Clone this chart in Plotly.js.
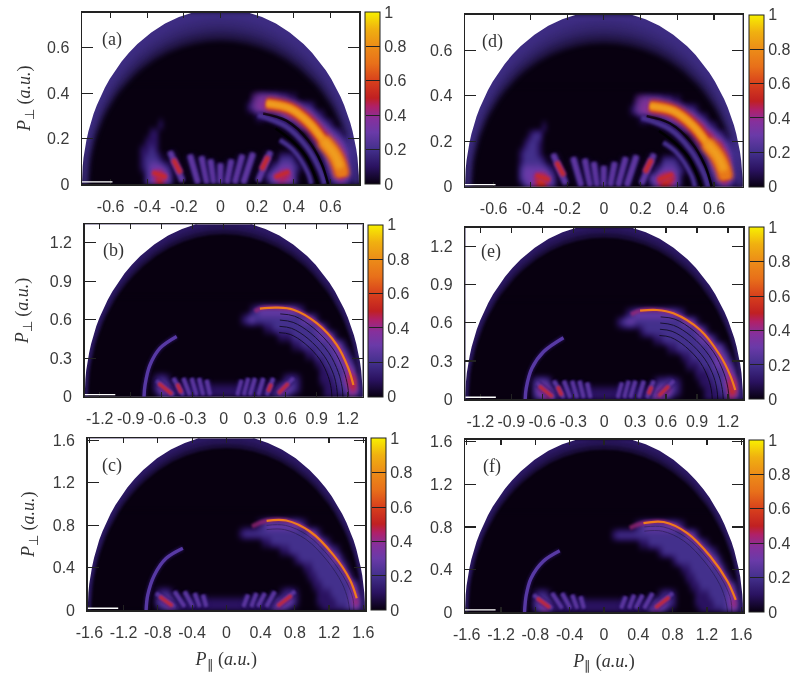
<!DOCTYPE html>
<html><head><meta charset="utf-8">
<script src="https://cdn.plot.ly/plotly-3.0.1.min.js"></script>
<style>html,body{margin:0;padding:0;background:#fff}#chart{filter:blur(0.45px)}</style></head>
<body><div id="chart" style="width:802px;height:677px"></div>
<script>
// Broad intensity on a 61 x 12 grid, in tenths; top row first
// (rows step by one twentieth of the height; everything above them is dark).
const Z = "0000000000 0000000000 0000000000 0000000000 0000000000 0000000000 0";
const rowsA = [
Z,
"0000000000 0000000000 0000000000 0000000123 3332211000 0000000000 0",
"0000000000 0000000000 0000000000 0000001234 4444443322 1000000000 0",
"0000000000 0000000000 0000000000 0000000011 0012344444 3210000000 0",
"0000000000 0000000100 0000000000 0000000000 0000001234 4432100000 0",
"0000000000 0000011000 0000000000 0000000000 0000000001 2444321000 0",
"0000000000 0000111000 0000000000 0000000000 0000000000 1234443210 0",
"0000000000 0001121000 0000000000 0000000000 0000000000 0123444321 0",
"0000000000 0001222100 0000000000 0000000000 0002221000 0013455421 0",
"0000000000 0001233321 0000000000 0000000000 0123332100 0002355421 0",
"0000000000 0000235642 0000000000 0000000000 2345542000 0001245421 0",
"0000000000 0000234532 0000000000 0000000000 0234332000 0000123210 0"];
const rowsB = [
Z,
"0000000000 0000000000 0000000000 0000001233 3333332100 0000000000 0",
"0000000000 0000000000 0000000000 0000123222 2222222333 1000000000 0",
"0000000000 0000000000 0000000000 0000000001 1222222222 3310000000 0",
"0000000000 0000000000 0000000000 0000000000 0011122222 2333100000 0",
"0000000000 0000000000 0000000000 0000000000 0000011222 2223331000 0",
"0000000000 0000000000 0000000000 0000000000 0000000011 2222333100 0",
"0000000000 0000000000 0000000000 0000000000 0000000000 1122233310 0",
"0000000000 0000000000 0000000000 0000000000 0000000000 0112223430 0",
"0000000000 0000012210 0000000000 0000000000 0001221000 0111223562 0",
"0000000000 0000013431 1111111111 1111111111 1134321000 0011122453 0",
"0000000000 0000001232 1111111111 1111111111 1232100000 0011111331 0"];
const rowsC = [
Z,
"0000000000 0000000000 0000000000 0000000123 3333332100 0000000000 0",
"0000000000 0000000000 0000000000 0001222222 2222222233 1000000000 0",
"0000000000 0000000000 0000000000 0000000011 2222222222 3210000000 0",
"0000000000 0000000000 0000000000 0000000000 0011222222 2232100000 0",
"0000000000 0000000000 0000000000 0000000000 0000012222 2223310000 0",
"0000000000 0000000000 0000000000 0000000000 0000000112 2222231000 0",
"0000000000 0000000000 0000000000 0000000000 0000000011 2222223100 0",
"0000000000 0000000000 0000000000 0000000000 0000000001 1222222320 0",
"0000000000 0000012210 0000000000 0000000000 0012210000 1112222331 0",
"0000000000 0000023431 1111111111 1111111111 1334310000 1111222352 0",
"0000000000 0000001242 1111111111 1111111111 2431000000 0111112231 0"];
const rowsD = [
Z,
"0000000000 0000000000 0000000000 0000000123 3332211000 0000000000 0",
"0000000000 0000000000 0000000000 0000001234 4555543322 1000000000 0",
"0000000000 0000000000 0000000000 0000000011 0012345554 3210000000 0",
"0000000000 0000000100 0000000000 0000000000 0000001234 5532100000 0",
"0000000000 0000122000 0000000000 0000000000 0000000001 2455321000 0",
"0000000000 0001221000 0000000000 0000000000 0000000000 1234553210 0",
"0000000000 0012221000 0000000000 0000000000 0000000000 0123555321 0",
"0000000000 0012222100 0000000000 0000000000 0002221000 0013566421 0",
"0000000000 0023333321 0000000000 0000000000 0123332100 0002356421 0",
"0000000000 0023346642 0000000000 0000000000 3356652000 0001246421 0",
"0000000000 0002345532 0000000000 0000000000 0345432000 0000123210 0"];
const rowsE = [
Z,
"0000000000 0000000000 0000000000 0000012333 3333332100 0000000000 0",
"0000000000 0000000000 0000000000 0001233222 2222222333 1000000000 0",
"0000000000 0000000000 0000000000 0000000012 2222222222 3310000000 0",
"0000000000 0000000000 0000000000 0000000000 0112222222 2333100000 0",
"0000000000 0000000000 0000000000 0000000000 0000112222 2223331000 0",
"0000000000 0000000000 0000000000 0000000000 0000000112 2222333100 0",
"0000000000 0000000000 0000000000 0000000000 0000000011 1222333310 0",
"0000000000 0000000000 0000000000 0000000000 0000000000 1112223430 0",
"0000000000 0000023320 0000000000 0000000000 0122321000 0111223562 0",
"0000000000 0000024442 1111111111 1111111111 1345421000 0011122563 0",
"0000000000 0000012352 1111111111 1111111111 2442100000 0011111431 0"];
const rowsF = [
Z,
"0000000000 0000000000 0000000000 0000000123 3333332100 0000000000 0",
"0000000000 0000000000 0000000000 0012222222 2222222233 1000000000 0",
"0000000000 0000000000 0000000000 0000000011 2222222222 3210000000 0",
"0000000000 0000000000 0000000000 0000000000 0012222222 2232100000 0",
"0000000000 0000000000 0000000000 0000000000 0000012222 2223310000 0",
"0000000000 0000000000 0000000000 0000000000 0000000112 2222231000 0",
"0000000000 0000000000 0000000000 0000000000 0000000011 2222223100 0",
"0000000000 0000000000 0000000000 0000000000 0000000001 1222222320 0",
"0000000000 0000012210 0000000000 0000000000 0012210000 1112222331 0",
"0000000000 0000023331 1111111111 1111111111 1334210000 1111222352 0",
"0000000000 0000012431 1111111111 1111111111 3431000000 0111112231 0"];

// Bright ridge (momentum units).
const ridgeXA = [0.178,0.251,0.378,0.487,0.56,0.624,0.655,0.665];
const ridgeYA = [0.362,0.355,0.333,0.267,0.194,0.128,0.07,0.034];
const ridgeXB = [0.30,0.35,0.513,0.674,0.90,1.094,1.206,1.255];
const ridgeYB = [0.665,0.687,0.695,0.679,0.574,0.405,0.222,0.091];
const ridgeXC = [0.30,0.47,0.70,0.977,1.25,1.445,1.523];
const ridgeYC = [0.79,0.843,0.846,0.742,0.522,0.286,0.113];
const ridgeXE = [0.26,0.348,0.51,0.67,0.93,1.12,1.22,1.27];
const ridgeYE = [0.665,0.695,0.70,0.674,0.543,0.347,0.19,0.073];
const ridgeXF = [0.30,0.46,0.695,0.97,1.24,1.44,1.535];
const ridgeYF = [0.79,0.836,0.846,0.742,0.522,0.286,0.113];

// Secondary purple rings in panels (a) and (d).
const sideXA = [[0.205,0.36,0.469,0.542,0.569],[0.324,0.396,0.478,0.496]];
const sideYA = [[0.304,0.253,0.165,0.063,0],[0.194,0.15,0.048,0]];

// Faint outer arc on the negative side.
const arcXB = [-0.455,-0.616,-0.713,-0.761,-0.771];
const arcYB = [0.47,0.379,0.248,0.091,0];
const arcXC = [-0.508,-0.703,-0.84,-0.918,-0.9375];
const arcYC = [0.585,0.49,0.333,0.145,0.003];
const arcXE = [-0.394,-0.587,-0.70,-0.755,-0.765];
const arcYE = [0.483,0.373,0.243,0.086,0];
const arcXF = [-0.516,-0.71,-0.85,-0.906,-0.926];
const arcYF = [0.575,0.475,0.318,0.16,0];

// Dark rings below the ridge.
const ringsXA = [[0.233,0.36,0.478,0.551,0.587],[0.30,0.395,0.467,0.532]];
const ringsYA = [[0.311,0.279,0.194,0.092,0],[0.245,0.187,0.121,0]];
const ringsXB = [[0.547,0.686,0.872,1.058,1.16,1.2,1.21],[0.543,0.672,0.844,1.016,1.11,1.145,1.154],[0.54,0.658,0.816,0.974,1.063,1.093,1.101],[0.536,0.644,0.788,0.932,1.011,1.04,1.047]];
const ringsYB = [[0.646,0.628,0.534,0.372,0.205,0.084,0],[0.598,0.58,0.494,0.344,0.189,0.077,0],[0.549,0.533,0.453,0.316,0.174,0.071,0],[0.5,0.486,0.413,0.288,0.158,0.065,0]];
const ringsXC = [[0.47,0.69,0.95,1.21,1.40,1.48,1.49],[0.47,0.68,0.93,1.175,1.35,1.42,1.44]];
const ringsYC = [[0.80,0.80,0.705,0.496,0.272,0.107,0],[0.76,0.76,0.668,0.47,0.257,0.10,0]];

// Interference lobes near the axis: x top, x bottom, y top, y bottom.
const lobesA = [[-0.276,-0.207,0.143,0.012],[-0.167,-0.122,0.128,0.004],[-0.104,-0.073,0.121,0.004],[-0.055,-0.035,0.107,0.004],[0,0,0.09,0.004],[0.06,0.036,0.107,0.004],[0.12,0.078,0.128,0.004],[0.178,0.124,0.136,0.004],[0.273,0.205,0.143,0.012]];
const coresA = [[-0.371,-0.295,0.051,0.029],[-0.258,-0.218,0.109,0.048],[0.26,0.224,0.121,0.063],[0.375,0.296,0.055,0.029]];
const lobesB = [[-0.648,-0.487,0.125,0.013],[-0.487,-0.39,0.144,0.013],[-0.39,-0.326,0.144,0.013],[-0.31,-0.261,0.144,0.013],[-0.239,-0.197,0.144,0.013],[-0.165,-0.132,0.13,0.013],[0.174,0.132,0.13,0.013],[0.239,0.197,0.144,0.013],[0.303,0.255,0.144,0.013],[0.384,0.335,0.144,0.013],[0.48,0.416,0.144,0.013],[0.674,0.529,0.144,0.026]];
const coresB = [[-0.63,-0.5,0.104,0.02],[-0.45,-0.41,0.1,0.03],[0.46,0.43,0.1,0.04],[0.626,0.529,0.104,0.026]];
const lobesC = [[-0.82,-0.605,0.16,0.035],[-0.605,-0.488,0.176,0.035],[-0.488,-0.39,0.176,0.035],[-0.37,-0.31,0.16,0.035],[-0.273,-0.234,0.145,0.035],[0.254,0.2,0.145,0.035],[0.352,0.293,0.16,0.035],[0.45,0.37,0.16,0.035],[0.566,0.469,0.176,0.035],[0.8,0.586,0.176,0.035]];
const coresC = [[-0.78,-0.63,0.13,0.04],[0.76,0.6,0.14,0.04]];

// Outer kinematic edge, as fractions of the half-width and of the height.
const edgeU = [1,0.9987,0.995,0.989,0.98,0.968,0.954,0.937,0.917,0.893,0.866,0.835,0.8,0.76,0.714,0.661,0.6,0.5,0.4,0.3,0.2,0.1,0];
const edgeV = [0,0.05,0.1,0.15,0.2,0.25,0.3,0.35,0.4,0.45,0.5,0.55,0.6,0.65,0.7,0.75,0.8,0.866,0.917,0.954,0.98,0.995,1];
// Nested rims of the edge band: scale of the width, scale of the height.
const wideRimU = [0.95,0.962,0.974,0.986];
const wideRimV = [0.82,0.86,0.90,0.945];
const thinRimU = [0.972,0.982,0.99];
const thinRimV = [0.925,0.95,0.975];

const ticksA = [-0.6,-0.4,-0.2,0,0.2,0.4,0.6];
const ticksB = [-1.2,-0.9,-0.6,-0.3,0,0.3,0.6,0.9,1.2];
const ticksC = [-1.6,-1.2,-0.8,-0.4,0,0.4,0.8,1.2,1.6];
const yTicksA = [0,0.2,0.4,0.6];
const yTicksB = [0,0.3,0.6,0.9,1.2];
const yTicksC = [0,0.4,0.8,1.2,1.6];
const barTicks = [0,0.2,0.4,0.6,0.8,1];

const colors = [[0,'#080010'],[0.1,'#2a1260'],[0.2,'#43308c'],[0.3,'#6a3aa8'],[0.38,'#86309c'],[0.45,'#b02068'],[0.5,'#c02022'],[0.6,'#d8401c'],[0.7,'#e8701a'],[0.8,'#ec8c18'],[0.9,'#f0b010'],[1,'#f8f000']];

const panels = [
 {id:'(a)',kind:'wide',rows:rowsA,R:0.756,xt:ticksA,yt:yTicksA,l:82,r:359,t:12.5,b:184,cb:365,lx:112,ly:39,ridgeX:ridgeXA,ridgeY:ridgeYA,ringsX:ringsXA,ringsY:ringsYA,ringW:2.5,ringO:0.9,lobes:lobesA,cores:coresA,lobeW:5,yGap:11},
 {id:'(b)',kind:'thin',rows:rowsB,R:1.345,xt:ticksB,yt:yTicksB,l:84.7,r:362.7,t:224.3,b:396.7,cb:368.3,lx:113,ly:251,ridgeX:ridgeXB,ridgeY:ridgeYB,arcX:arcXB,arcY:arcYB,ringsX:ringsXB,ringsY:ringsYB,ringW:1,ringO:0.65,lobes:lobesB,cores:coresB,lobeW:3.5,yGap:16},
 {id:'(c)',kind:'thin',rows:rowsC,R:1.62,xt:ticksC,yt:yTicksC,l:87.7,r:365,t:438.3,b:610.3,cb:371,lx:112,ly:465,ridgeX:ridgeXC,ridgeY:ridgeYC,arcX:arcXC,arcY:arcYC,ringsX:ringsXC,ringsY:ringsYC,ringW:1,ringO:0.3,lobes:lobesC,cores:coresC,lobeW:3.5,xPad:'\u00a0\u00a0',yGap:13},
 {id:'(d)',kind:'wide',rows:rowsD,R:0.756,xt:ticksA,yt:yTicksA,l:465,r:742.7,t:14.7,b:186.7,cb:749,lx:492,ly:41,ridgeX:ridgeXA,ridgeY:ridgeYA,ringsX:ringsXA,ringsY:ringsYA,ringW:2.5,ringO:0.9,lobes:lobesA,cores:coresA,lobeW:5},
 {id:'(e)',kind:'thin',rows:rowsE,R:1.345,xt:ticksB,yt:yTicksB,l:465.3,r:743,t:227.7,b:399.3,cb:749,lx:491,ly:252,ridgeX:ridgeXE,ridgeY:ridgeYE,arcX:arcXE,arcY:arcYE,ringsX:ringsXB,ringsY:ringsYB,ringW:1,ringO:0.65,lobes:lobesB,cores:coresB,lobeW:3.5},
 {id:'(f)',kind:'thin',rows:rowsF,R:1.62,xt:ticksC,yt:yTicksC,l:465,r:743,t:439.7,b:612,cb:749,lx:492,ly:466,ridgeX:ridgeXF,ridgeY:ridgeYF,arcX:arcXF,arcY:arcYF,ringsX:ringsXC,ringsY:ringsYC,ringW:1,ringO:0.3,lobes:lobesC,cores:coresC,lobeW:3.5,xPad:'\u00a0\u00a0\u00a0\u00a0'}
];

const W=802,H=677;
const tickFont={family:'"Liberation Sans",Arial,sans-serif',size:16,color:'#3a3a3a'};
const titleFont={family:'"Liberation Serif",serif',size:18,color:'#333'};
const data=[],annotations=[],shapes=[],softness=[];
const layout={width:W,height:H,margin:{l:0,r:0,t:0,b:0,autoexpand:false},paper_bgcolor:'#fff',plot_bgcolor:'#080010',showlegend:false,annotations,shapes};

panels.forEach((p,i)=>{
  const n=i?String(i+1):'',xa='x'+n,ya='y'+n;
  const z=p.rows.map(r=>r.replace(/ /g,'').split('').map(c=>+c/10)).reverse();
  const xs=z[0].map((_,k)=>p.R*(k-30)/30), ys=z.map((_,k)=>p.R*k/20);
  data.push({type:'heatmap',x:xs,y:ys,z,xaxis:xa,yaxis:ya,zmin:0,zmax:1,zsmooth:'best',colorscale:colors,hoverinfo:'skip',
    colorbar:{x:p.cb/W,xanchor:'left',xpad:0,ypad:0,y:(H-p.b)/H,yanchor:'bottom',lenmode:'pixels',len:p.b-p.t,thicknessmode:'pixels',thickness:14.5,
      outlinecolor:'#222',outlinewidth:1,ticks:'inside',ticklen:14.5,tickcolor:'#222',tickwidth:1,tickmode:'array',tickvals:barTicks,ticktext:barTicks.map(String),
      tickprefix:'\u00a0\u00a0\u00a0\u00a0\u00a0\u00a0',tickfont:tickFont}});
  const line=(x,y,color,width,opacity,shape,soft)=>{data.push({type:'scatter',mode:'lines',x,y,xaxis:xa,yaxis:ya,line:{color,width,shape:shape||'spline'},opacity,hoverinfo:'skip'});softness.push(soft);};
  const wide=p.kind==='wide';
  const lw=p.lobeW, sl=wide?1.8:1;
  p.lobes.forEach(o=>{ line(o.slice(0,2),o.slice(2),'#2a1260',lw+4,0.6,'linear',sl+0.8); line(o.slice(0,2),o.slice(2),'#4c3496',lw+1,0.9,'linear',sl); line(o.slice(0,2),o.slice(2),'#6a3aa8',lw-1.5,0.9,'linear',sl); });
  p.cores.forEach(o=>{ line(o.slice(0,2),o.slice(2),'#a02878',lw+1.5,0.8,'linear',sl); line(o.slice(0,2),o.slice(2),'#cc2a22',lw-1.5,1,'linear',sl*0.8); });
  if(wide){
    sideXA.forEach((sx,k)=>{ line(sx,sideYA[k],'#2a1260',9-2*k,0.6,null,1.5); line(sx,sideYA[k],'#4c3596',5-k,0.9,null,1); });
  }
  p.ringsX.forEach((rx,k)=>line(rx,p.ringsY[k],'#000',p.ringW,p.ringO,null,wide?0.7:0.3));
  if(p.arcX){ line(p.arcX,p.arcY,'#2a1260',6,0.6,null,1); line(p.arcX,p.arcY,'#5f3fb0',3.4,0.9,null,0.6); }
  if(wide){
    line(p.ridgeX,p.ridgeY,'#8a3090',17,0.6,null,3);
    line(p.ridgeX.slice(1),p.ridgeY.slice(1),'#c8301e',13,0.9,null,2.2);
    line(p.ridgeX.slice(1),p.ridgeY.slice(1),'#e87a1a',9,1,null,1.8);
    line(p.ridgeX.slice(1,7),p.ridgeY.slice(1,7),'#f0a020',5,0.95,null,1.5);
    line(p.ridgeX.slice(4,8),p.ridgeY.slice(4,8),'#e87a1a',15,0.9,null,2.5);
    line(p.ridgeX.slice(4,7),p.ridgeY.slice(4,7),'#f0a020',8,0.95,null,2);
  } else {
    line(p.ridgeX,p.ridgeY,'#a02878',4.5,0.7,null,1);
    line(p.ridgeX.slice(1),p.ridgeY.slice(1),'#ee7c1c',2.2,1,null,0.4);
  }
  const top=p.R*1.02;
  const annulus=(su,sv,color,soft)=>{
    const mx=[-p.R].concat(edgeU.map(u=>-u*p.R*su),edgeU.slice(0,-1).reverse().map(u=>u*p.R*su),[p.R,p.R,-p.R,-p.R]);
    const my=[0].concat(edgeV.map(v=>v*top*sv),edgeV.slice(0,-1).reverse().map(v=>v*top*sv),[0,p.R,p.R,0]);
    data.push({type:'scatter',mode:'lines',x:mx,y:my,xaxis:xa,yaxis:ya,fill:'toself',fillcolor:color,line:{width:0,color:'rgba(0,0,0,0)'},hoverinfo:'skip'});
    softness.push(soft);
  };
  // rim of the edge, darkest inside, then white outside it
  const rimU=wide?wideRimU:thinRimU, rimV=wide?wideRimV:thinRimV;
  rimU.forEach((su,k)=>annulus(su,rimV[k],wide?'rgba(72,52,150,0.38)':'rgba(52,30,120,0.42)',wide?2.5:1.2));
  annulus(1,1,'#fff',0);
  const ax={showline:true,linecolor:'#222',linewidth:1.5,mirror:'allticks',ticks:'inside',tickcolor:'#222',tickwidth:1.2,showgrid:false,zeroline:false,tickmode:'array',tickfont:tickFont};
  layout['xaxis'+n]=Object.assign({},ax,{domain:[p.l/W,p.r/W],range:[-p.R,p.R],anchor:ya,tickvals:p.xt,ticktext:p.xt.map(String),ticklen:5,ticklabelstandoff:7,
     title:p.xPad?{text:'<i>P</i><sub>\u2225</sub> (<i>a.u.</i>)'+p.xPad,font:titleFont,standoff:12}:undefined});
  layout['yaxis'+n]=Object.assign({},ax,{domain:[(H-p.b)/H,(H-p.t)/H],range:[0,p.R],anchor:xa,tickvals:p.yt,ticktext:p.yt.map(String),ticklen:11,ticklabelstandoff:8,
     title:p.yGap?{text:'<i>P</i><sub>\u22a5</sub> (<i>a.u.</i>)',font:titleFont,standoff:p.yGap}:undefined});
  annotations.push({xref:'paper',yref:'paper',x:p.lx/W,y:(H-p.ly)/H,text:p.id,showarrow:false,font:{family:'"Liberation Serif",serif',size:18,color:'#333'},xanchor:'center',yanchor:'middle'});
  shapes.push({type:'line',xref:xa,yref:ya,x0:-p.R,x1:-p.R*0.78,y0:p.R*0.012,y1:p.R*0.012,line:{color:'#fff',width:1.3},layer:'above'});
});
Plotly.newPlot('chart',data,layout,{staticPlot:true}).then(gd=>{
  // The reference is a soft scan: soften each mark by its own amount.
  gd.querySelectorAll('.scatterlayer .trace').forEach((el,k)=>{ if(softness[k]) el.style.filter='blur('+softness[k]+'px)'; });
  gd.querySelectorAll('.heatmaplayer image').forEach(el=>{ el.style.filter='blur(2.2px)'; });
});
</script></body></html>
